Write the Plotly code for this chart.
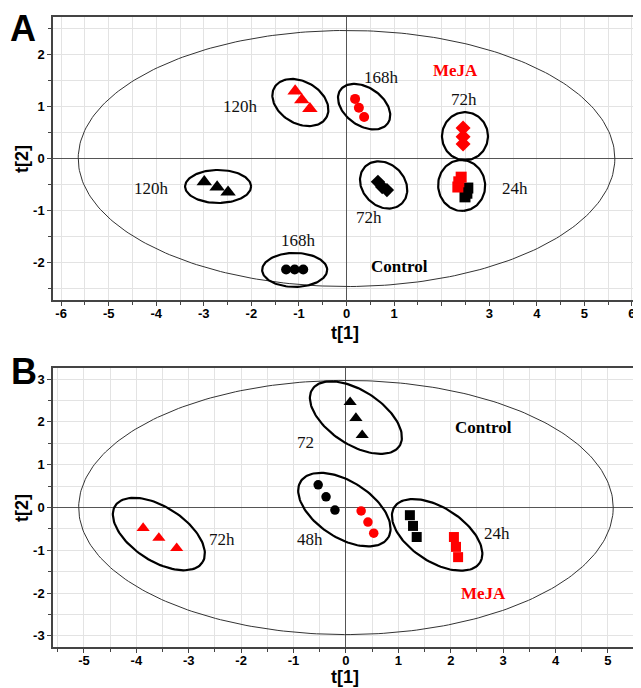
import numpy as np
import plotly.graph_objects as go

# ---------------- DATA ----------------
# Panel A (t[1], t[2]) scores
a_meja_120h_x = [-1.08, -0.94, -0.77]
a_meja_120h_y = [1.30, 1.13, 0.96]
a_meja_168h_x = [0.18, 0.26, 0.37]
a_meja_168h_y = [1.15, 0.98, 0.80]
a_meja_72h_x = [2.45, 2.45, 2.45]
a_meja_72h_y = [0.59, 0.42, 0.28]
a_meja_24h_x = [2.41, 2.36, 2.34]
a_meja_24h_y = [-0.36, -0.45, -0.55]
a_ctrl_24h_x = [2.55, 2.53, 2.49]
a_ctrl_24h_y = [-0.57, -0.67, -0.74]
a_ctrl_72h_x = [0.66, 0.75, 0.85]
a_ctrl_72h_y = [-0.45, -0.55, -0.61]
a_ctrl_120h_x = [-2.99, -2.72, -2.49]
a_ctrl_120h_y = [-0.45, -0.55, -0.65]
a_ctrl_168h_x = [-1.27, -1.09, -0.91]
a_ctrl_168h_y = [-2.14, -2.14, -2.14]

# Panel B scores
b_ctrl_72_x = [0.08, 0.19, 0.31]
b_ctrl_72_y = [2.46, 2.09, 1.69]
b_ctrl_48h_x = [-0.53, -0.38, -0.21]
b_ctrl_48h_y = [0.53, 0.25, -0.06]
b_meja_48h_x = [0.29, 0.42, 0.53]
b_meja_48h_y = [-0.08, -0.34, -0.60]
b_ctrl_24h_x = [1.22, 1.28, 1.35]
b_ctrl_24h_y = [-0.18, -0.43, -0.69]
b_meja_24h_x = [2.06, 2.10, 2.14]
b_meja_24h_y = [-0.69, -0.92, -1.16]
b_meja_72h_x = [-3.87, -3.57, -3.23]
b_meja_72h_y = [-0.48, -0.71, -0.95]

# Labels
a_label_text = ["120h", "168h", "72h", "72h", "24h", "120h", "168h"]
a_label_x = [-2.22, 0.73, 2.47, 0.48, 3.54, -4.09, -1.01]
a_label_y = [1.01, 1.57, 1.13, -1.13, -0.57, -0.57, -1.59]
b_label_text = ["72", "48h", "24h", "72h"]
b_label_x = [-0.78, -0.68, 2.88, -2.37]
b_label_y = [1.53, -0.74, -0.60, -0.74]

# Tick labels
a_x_ticks = [-6, -5, -4, -3, -2, -1, 0, 1, 2, 3, 4, 5, 6]
a_x_ticktext = ["-6", "-5", "-4", "-3", "-2", "-1", "0", "1", "", "3", "4", "5", "6"]
a_y_ticks = [-2, -1, 0, 1, 2]
b_x_ticks = [-5, -4, -3, -2, -1, 0, 1, 2, 3, 4, 5]
b_y_ticks = [-3, -2, -1, 0, 1, 2, 3]

# Hotelling T2 ellipse semi-axes (data units)
a_t2 = (5.64, 2.47)
b_t2 = (5.10, 2.97)

# group ellipses: centre x, centre y, semi-axes (px), tilt (deg, clockwise)
a_ell = [(-0.97, 1.08, 30, 21, 30), (0.37, 1.00, 29, 19, 35), (2.49, 0.43, 24, 23, 90),
         (0.78, -0.51, 26, 21, 45), (2.42, -0.52, 25.5, 23.5, 85),
         (-2.70, -0.54, 33, 16.5, 0), (-1.09, -2.15, 32.5, 17, 0)]
b_ell = [(0.19, 2.10, 52, 27, 33), (-0.03, -0.05, 52, 28, 33),
         (1.74, -0.64, 51, 27, 33), (-3.57, -0.62, 52, 27, 33)]

# ---------------- LAYOUT GEOMETRY ----------------
OFF = 8  # page body margin
W, H = 641 - OFF, 688 - OFF
XL, XR = 53 - OFF, 641 - OFF
A_TOP, A_BOT = 17 - OFF, 300 - OFF
B_TOP, B_BOT = 368 - OFF, 647 - OFF
a_xr = [-6.17, 6.19]
a_yr = [-2.73, 2.73]
b_xr = [-5.59, 5.63]
b_yr = [-3.26, 3.26]

RED = "#ff0000"
BLK = "#000000"

fig = go.Figure()


def add_pts(x, y, sym, color, size, xa, ya):
    fig.add_trace(go.Scatter(x=x, y=y, mode="markers", xaxis=xa, yaxis=ya,
                             marker=dict(symbol=sym, color=color, size=size, line=dict(width=0)),
                             showlegend=False, hoverinfo="skip"))


def add_ellipse(cx, cy, apx, bpx, th, sx, sy, xa, ya):
    t = np.linspace(0, 2 * np.pi, 120)
    r = np.deg2rad(th)
    dx = apx * np.cos(t) * np.cos(r) - bpx * np.sin(t) * np.sin(r)
    dy = apx * np.cos(t) * np.sin(r) + bpx * np.sin(t) * np.cos(r)
    fig.add_trace(go.Scatter(x=cx + dx / sx, y=cy - dy / sy, mode="lines", xaxis=xa, yaxis=ya,
                             line=dict(color=BLK, width=2.2), showlegend=False, hoverinfo="skip"))


def add_t2(ab, xa, ya):
    t = np.linspace(0, 2 * np.pi, 300)
    fig.add_trace(go.Scatter(x=ab[0] * np.cos(t), y=ab[1] * np.sin(t), mode="lines",
                             xaxis=xa, yaxis=ya, line=dict(color="#333333", width=1),
                             showlegend=False, hoverinfo="skip"))


a_sx = (XR - XL) / (a_xr[1] - a_xr[0])
a_sy = (A_BOT - A_TOP) / (a_yr[1] - a_yr[0])
b_sx = (XR - XL) / (b_xr[1] - b_xr[0])
b_sy = (B_BOT - B_TOP) / (b_yr[1] - b_yr[0])

# Panel A
add_t2(a_t2, "x", "y")
for e in a_ell:
    add_ellipse(*e, a_sx, a_sy, "x", "y")
add_pts(a_meja_120h_x, a_meja_120h_y, "triangle-up", RED, 13.5, "x", "y")
add_pts(a_meja_168h_x, a_meja_168h_y, "circle", RED, 10, "x", "y")
add_pts(a_meja_72h_x, a_meja_72h_y, "diamond", RED, 11.5, "x", "y")
add_pts(a_ctrl_24h_x, a_ctrl_24h_y, "square", BLK, 11, "x", "y")
add_pts(a_meja_24h_x, a_meja_24h_y, "square", RED, 11, "x", "y")
add_pts(a_ctrl_72h_x, a_ctrl_72h_y, "diamond", BLK, 11, "x", "y")
add_pts(a_ctrl_120h_x, a_ctrl_120h_y, "triangle-up", BLK, 13.5, "x", "y")
add_pts(a_ctrl_168h_x, a_ctrl_168h_y, "circle", BLK, 10, "x", "y")

# Panel B
add_t2(b_t2, "x2", "y2")
for e in b_ell:
    add_ellipse(*e, b_sx, b_sy, "x2", "y2")
add_pts(b_ctrl_72_x, b_ctrl_72_y, "triangle-up", BLK, 11.5, "x2", "y2")
add_pts(b_ctrl_48h_x, b_ctrl_48h_y, "circle", BLK, 9.5, "x2", "y2")
add_pts(b_meja_48h_x, b_meja_48h_y, "circle", RED, 9.5, "x2", "y2")
add_pts(b_ctrl_24h_x, b_ctrl_24h_y, "square", BLK, 10, "x2", "y2")
add_pts(b_meja_24h_x, b_meja_24h_y, "square", RED, 10, "x2", "y2")
add_pts(b_meja_72h_x, b_meja_72h_y, "triangle-up", RED, 11.5, "x2", "y2")

SERIF = "Liberation Serif"
SANS = "Liberation Sans"
annots = []
for t, x, y in zip(a_label_text, a_label_x, a_label_y):
    annots.append(dict(x=x, y=y, xref="x", yref="y", text=t, showarrow=False,
                       font=dict(family=SERIF, size=17, color="#111111")))
for t, x, y in zip(b_label_text, b_label_x, b_label_y):
    annots.append(dict(x=x, y=y, xref="x2", yref="y2", text=t, showarrow=False,
                       font=dict(family=SERIF, size=17, color="#111111")))
annots += [
    dict(x=2.30, y=1.69, xref="x", yref="y", text="<b>MeJA</b>", showarrow=False,
         font=dict(family=SERIF, size=17, color=RED)),
    dict(x=1.11, y=-2.08, xref="x", yref="y", text="<b>Control</b>", showarrow=False,
         font=dict(family=SERIF, size=17, color=BLK)),
    dict(x=2.63, y=1.88, xref="x2", yref="y2", text="<b>Control</b>", showarrow=False,
         font=dict(family=SERIF, size=17, color=BLK)),
    dict(x=2.63, y=-2.02, xref="x2", yref="y2", text="<b>MeJA</b>", showarrow=False,
         font=dict(family=SERIF, size=17, color=RED)),
]


def paper(xpx, ypx):
    return (xpx - OFF) / W, 1 - (ypx - OFF) / H


for txt, px, py, sz, ang in [("A", 23, 28, 36, 0), ("B", 24, 371, 36, 0),
                             ("t[1]", 345, 333, 18, 0), ("t[1]", 345, 677, 18, 0),
                             ("t[2]", 22, 159, 18, -90), ("t[2]", 22, 508, 18, -90)]:
    xp, yp = paper(px, py)
    annots.append(dict(x=xp, y=yp, xref="paper", yref="paper", text="<b>%s</b>" % txt,
                       showarrow=False, textangle=ang, xanchor="center", yanchor="middle",
                       font=dict(family=SANS, size=sz, color=BLK)))


def bold(vals, texts=None):
    if texts is None:
        texts = [str(v) for v in vals]
    return ["<b>%s</b>" % t if t else "" for t in texts]


def axis_common():
    return dict(showgrid=True, gridcolor="#e3e3e3", gridwidth=1, automargin=False,
                zeroline=True, zerolinecolor="#555555", zerolinewidth=1,
                showline=True, linecolor="#444444", linewidth=1.5, mirror=True,
                ticks="outside", ticklen=4, tickcolor="#444444",
                tickfont=dict(family=SANS, size=13, color=BLK),
                minor=dict(dtick=0.5, showgrid=True, gridcolor="#e3e3e3",
                           ticks="outside", ticklen=3, tickcolor="#444444"))


xa1 = axis_common()
xa1.update(domain=[XL / W, XR / W], range=a_xr, anchor="y", ticklabelstandoff=-3,
           tickmode="array", tickvals=a_x_ticks, ticktext=bold(a_x_ticks, a_x_ticktext))
ya1 = axis_common()
ya1.update(domain=[1 - A_BOT / H, 1 - A_TOP / H], range=a_yr, anchor="x",
           tickmode="array", tickvals=a_y_ticks, ticktext=bold(a_y_ticks))
xa2 = axis_common()
xa2.update(domain=[XL / W, XR / W], range=b_xr, anchor="y2", ticklabelstandoff=-3,
           tickmode="array", tickvals=b_x_ticks, ticktext=bold(b_x_ticks))
ya2 = axis_common()
ya2.update(domain=[1 - B_BOT / H, 1 - B_TOP / H], range=b_yr, anchor="x2",
           tickmode="array", tickvals=b_y_ticks, ticktext=bold(b_y_ticks))

fig.update_layout(width=W, height=H, margin=dict(l=0, r=0, t=0, b=0, autoexpand=False),
                  paper_bgcolor="white", plot_bgcolor="white",
                  xaxis=xa1, yaxis=ya1, xaxis2=xa2, yaxis2=ya2,
                  annotations=annots, showlegend=False)

fig.write_html("out.html")
